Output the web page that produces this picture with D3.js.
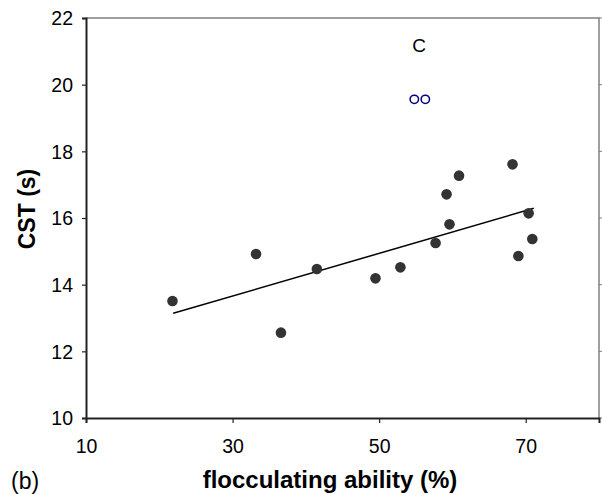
<!DOCTYPE html>
<html>
<head>
<meta charset="utf-8">
<script src="https://cdn.jsdelivr.net/npm/d3@7"></script>
<style>
  body { margin: 0; background: #fff; }
  svg { display: block; font-family: Arial, "Liberation Sans", sans-serif; }
</style>
</head>
<body>
<div id="chart"></div>
<script>
// flocculating ability vs CST, panel (b)

const floc = [21.8, 33.2, 36.6, 41.5, 49.5, 52.9, 57.7, 59.2, 59.6, 60.9, 68.2, 69.0, 70.4, 70.9];
const cst  = [13.51, 14.92, 12.56, 14.47, 14.19, 14.52, 15.25, 16.71, 15.81, 17.27, 17.61, 14.86, 16.14, 15.37];

// open markers (outliers)
const outFloc = [54.8, 56.3];
const outCst  = [19.56, 19.56];

// linear trend line endpoints
const trendFloc = [21.9, 71.1];
const trendCst  = [13.14, 16.29];

const xTicks = [10, 30, 50, 70];
const yTicks = [10, 12, 14, 16, 18, 20, 22];

const width = 602, height = 494;
const margin = {top: 18, right: 3, bottom: 76, left: 86};

const svg = d3.select("#chart").append("svg")
	.attr("width", width)
	.attr("height", height);

const x = d3.scaleLinear().domain([10, 80]).range([margin.left, width - margin.right]);
const y = d3.scaleLinear().domain([10, 22]).range([height - margin.bottom, margin.top]);

// frame: top and right in grey
svg.append("path")
	.attr("d", `M${x(10)},${y(22)}H${x(80)}V${y(10)}`)
	.attr("fill", "none")
	.attr("stroke", "#808080")
	.attr("stroke-width", 1.5);

// small marks on right side
svg.selectAll(".rtick").data(yTicks).enter().append("line")
	.attr("x1", x(80)).attr("x2", x(80) + 3)
	.attr("y1", d => y(d)).attr("y2", d => y(d))
	.attr("stroke", "#808080");

const xAxis = svg.append("g")
	.attr("transform", `translate(0,${y(10)})`)
	.call(d3.axisBottom(x).tickValues(xTicks).tickSize(5).tickPadding(16));

const yAxis = svg.append("g")
	.attr("transform", `translate(${x(10)},0)`)
	.call(d3.axisLeft(y).tickValues(yTicks).tickSize(4).tickPadding(9));

[xAxis, yAxis].forEach(g => {
	g.select(".domain").attr("stroke", "#222").attr("stroke-width", 2);
	g.selectAll(".tick line").attr("stroke", "#222").attr("stroke-width", 1.2);
	g.selectAll(".tick text")
		.attr("font-family", "Arial, 'Liberation Sans', sans-serif")
		.attr("font-size", 19.5)
		.attr("fill", "#000");
});
yAxis.selectAll(".tick text").attr("dy", "0.35em");

// trend line
svg.append("line")
	.attr("x1", x(trendFloc[0])).attr("y1", y(trendCst[0]))
	.attr("x2", x(trendFloc[1])).attr("y2", y(trendCst[1]))
	.attr("stroke", "#000")
	.attr("stroke-width", 1.5);

// filled dots
svg.selectAll(".dot").data(floc).enter().append("circle")
	.attr("class", "dot")
	.attr("cx", d => x(d))
	.attr("cy", (d, i) => y(cst[i]))
	.attr("r", 5.3)
	.attr("fill", "#333333");

// open circles
svg.selectAll(".out").data(outFloc).enter().append("circle")
	.attr("class", "out")
	.attr("cx", d => x(d))
	.attr("cy", (d, i) => y(outCst[i]))
	.attr("r", 4.2)
	.attr("fill", "none")
	.attr("stroke", "#000080")
	.attr("stroke-width", 1.5);

svg.append("text")
	.attr("x", 419).attr("y", 45)
	.attr("dy", "0.35em")
	.attr("text-anchor", "middle")
	.attr("font-size", 19)
	.text("C");

svg.append("text")
	.attr("x", 330).attr("y", 488)
	.attr("text-anchor", "middle")
	.attr("font-size", 24)
	.attr("font-weight", "bold")
	.text("flocculating ability (%)");

svg.append("text")
	.attr("transform", "translate(35,209) rotate(-90)")
	.attr("text-anchor", "middle")
	.attr("font-size", 23)
	.attr("font-weight", "bold")
	.text("CST (s)");

svg.append("text")
	.attr("x", 11).attr("y", 489)
	.attr("font-size", 23)
	.text("(b)");
</script>
</body>
</html>
